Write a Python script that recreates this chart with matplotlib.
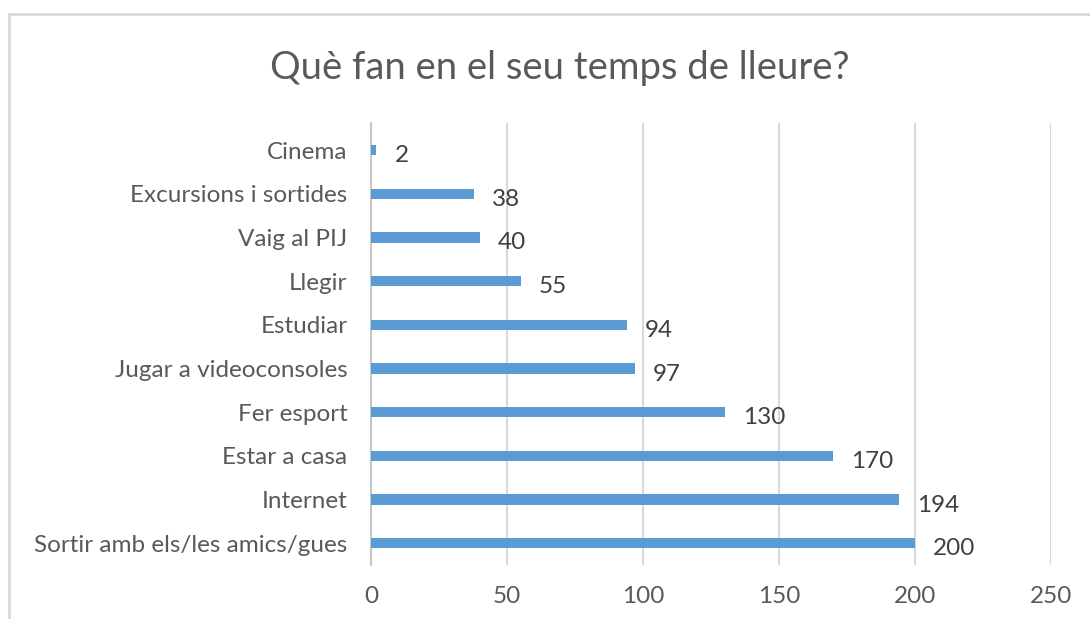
import matplotlib.pyplot as plt
import matplotlib.patches as patches

categories = ["Cinema", "Excursions i sortides", "Vaig al PIJ", "Llegir", "Estudiar",
              "Jugar a videoconsoles", "Fer esport", "Estar a casa", "Internet",
              "Sortir amb els/les amics/gues"]
values = [2, 38, 40, 55, 94, 97, 130, 170, 194, 200]
xticks = [0, 50, 100, 150, 200, 250]

W, H = 1090, 619
fig = plt.figure(figsize=(W / 100, H / 100), dpi=100, facecolor="white")
plt.rcParams["font.family"] = ["Lato", "DejaVu Sans"]

# chart frame (runs off the right/bottom edges like the screenshot)
fig.add_artist(patches.Rectangle((9 / W, -0.1), 1.2, 1 - 14 / H + 0.1, transform=fig.transFigure,
                                 fill=False, edgecolor="#D9D9D9", linewidth=2))

left, right, top, bottom = 371, 1051, 123, 565
ax = fig.add_axes([left / W, 1 - bottom / H, (right - left) / W, (bottom - top) / H])

pos = list(range(len(categories)))
ax.barh(pos, values, height=0.24, color="#5B9BD5", zorder=3)
ax.set_ylim(len(categories) - 0.5, -0.62)
ax.set_xlim(0, 250)
ax.set_xticks(xticks)
ax.set_xticklabels([str(t) for t in xticks])
ax.set_yticks(pos)
ax.set_yticklabels(categories)

for p, v in zip(pos, values):
    ax.annotate(str(v), (v, p), xytext=(13, -4), textcoords="offset points",
                ha="left", va="center", fontsize=17.5, color="#404040")

ax.grid(axis="x", color="#D9D9D9", linewidth=1.5, zorder=0)
for s in ["top", "right", "bottom"]:
    ax.spines[s].set_visible(False)
ax.spines["left"].set_color("#BFBFBF")
ax.spines["left"].set_linewidth(1.2)
ax.tick_params(axis="both", length=0, labelsize=17.5, labelcolor="#595959")
ax.tick_params(axis="y", pad=17)
ax.tick_params(axis="x", pad=15)

fig.text(560 / W, 1 - 68 / H, "Què fan en el seu temps de lleure?", ha="center", va="center",
         fontsize=27.5, color="#595959")

fig.savefig("out.png", dpi=100, facecolor="white")
